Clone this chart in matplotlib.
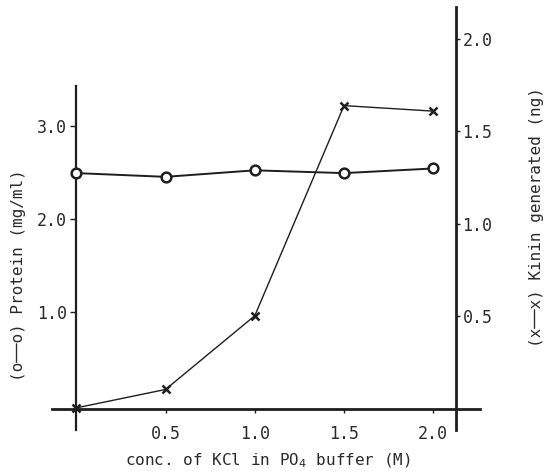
import matplotlib
matplotlib.use("Agg")
import matplotlib.pyplot as plt

# data
kcl = [0.0, 0.5, 1.0, 1.5, 2.0]
protein = [2.49, 2.45, 2.52, 2.49, 2.54]   # mg/ml, left axis
kinin = [0.0, 0.10, 0.50, 1.64, 1.61]      # ng, right axis

x_ticks = [0.5, 1.0, 1.5, 2.0]
left_ticks = [1.0, 2.0, 3.0]
right_ticks = [0.5, 1.0, 1.5, 2.0]

plt.rcParams['font.family'] = 'DejaVu Sans Mono'
ink = '#1e1e1e'
txt = '#2a2a2a'

fig = plt.figure(figsize=(5.46, 4.71), dpi=100)
W, H = 546, 471
ax = fig.add_axes([51.7 / W, 1 - 430 / H, (480 - 51.7) / W, (430 - 7) / H])
ax.patch.set_visible(False)
ax2 = ax.twinx()
ax2.patch.set_visible(False)

ax.set_xlim(-0.138, 2.262)
ax.set_ylim(-0.272, 4.276)
ax2.set_ylim(-0.120, 2.175)

# protein
ax.plot(kcl, protein, color=ink, lw=1.4, marker='o', ms=7, mfc='white',
        mec=ink, mew=1.8, zorder=5)
# kinin
ax2.plot(kcl, kinin, color=ink, lw=1.0, marker='x', ms=6, mec=ink,
         mew=1.8, zorder=5)

# axis lines, drawn like the hand-made original
for s in ['top', 'right']:
    ax.spines[s].set_visible(False)
for s in ['top', 'left', 'bottom']:
    ax2.spines[s].set_visible(False)
ax.spines['left'].set_position(('data', 0.0))
ax.spines['left'].set_bounds(-0.272, 3.427)
ax.spines['left'].set_linewidth(1.6)
ax.spines['bottom'].set_position(('data', -0.049))
ax.spines['bottom'].set_linewidth(2)
ax2.spines['right'].set_position(('data', 2.125))
ax2.spines['right'].set_linewidth(2)
for sp in [ax.spines['left'], ax.spines['bottom'], ax2.spines['right']]:
    sp.set_color(ink)

ax.set_xticks(x_ticks)
ax.set_xticklabels(['0.5', '1.0', '1.5', '2.0'])
ax.set_yticks(left_ticks)
ax.set_yticklabels(['1.0', '2.0', '3.0'])
ax2.set_yticks(right_ticks)
ax2.set_yticklabels(['0.5', '1.0', '1.5', '2.0'])

ax.tick_params(axis='x', direction='out', length=3, width=1, pad=8,
               labelsize=12, colors=ink, labelcolor=txt)
ax.tick_params(axis='y', direction='out', length=4, width=1, pad=3,
               labelsize=12, colors=ink, labelcolor=txt)
ax2.tick_params(axis='y', direction='out', length=3, width=1, pad=2,
                labelsize=12, colors=ink, labelcolor=txt)

fig.text(268 / W, 1 - 461 / H, 'conc. of KCl in PO$_4$ buffer (M)',
         ha='center', va='center', fontsize=11.5, color=txt)
fig.text(19 / W, 1 - 275 / H, '(o──o) Protein (mg/ml)', rotation=90,
         ha='center', va='center', fontsize=11.5, color=txt)
fig.text(537 / W, 1 - 217 / H, '(x──x) Kinin generated (ng)', rotation=90,
         ha='center', va='center', fontsize=11.5, color=txt)

fig.savefig('out.png', dpi=100)
